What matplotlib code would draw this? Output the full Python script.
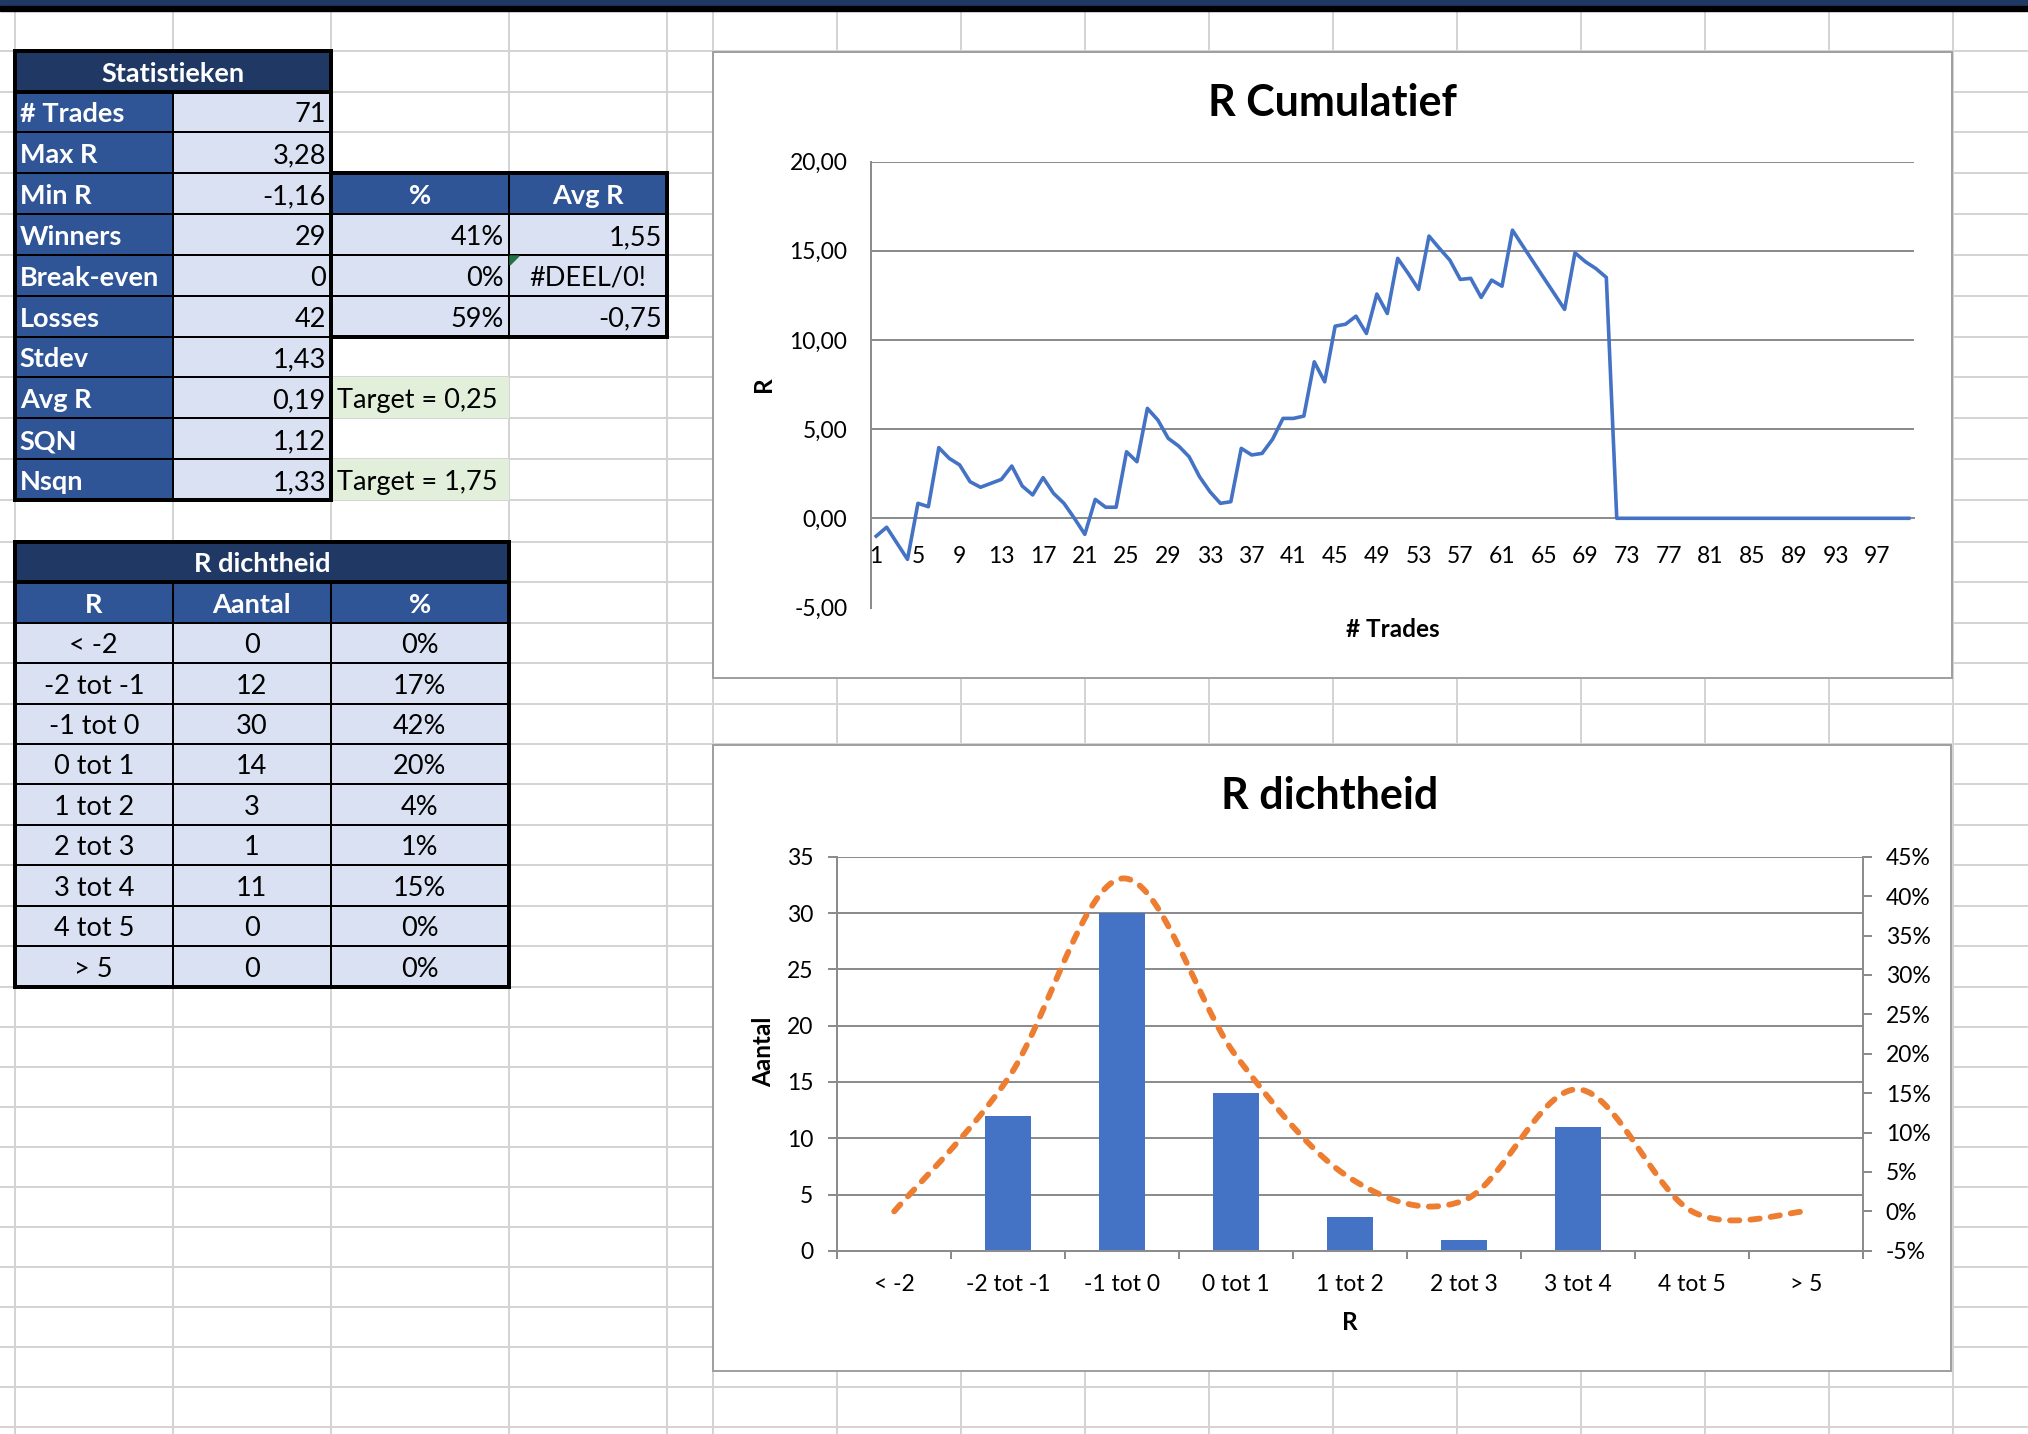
import numpy as np
import matplotlib
matplotlib.use("Agg")
import matplotlib.pyplot as plt
from matplotlib.patches import Rectangle, Polygon
from matplotlib.ticker import FuncFormatter

plt.rcParams['font.family'] = ['Lato', 'DejaVu Sans']

W, H = 2028, 1434

# ---------------- data ----------------
stat_labels = ["# Trades", "Max R", "Min R", "Winners", "Break-even", "Losses",
               "Stdev", "Avg R", "SQN", "Nsqn"]
stat_values = ["71", "3,28", "-1,16", "29", "0", "42", "1,43", "0,19", "1,12", "1,33"]

split_headers = ["%", "Avg R"]
split_rows = ["Winners", "Break-even", "Losses"]
split_pct = ["41%", "0%", "59%"]
split_avg = ["1,55", "#DEEL/0!", "-0,75"]

target_rows = ["Avg R", "Nsqn"]
target_texts = ["Target = 0,25", "Target = 1,75"]

r_bins = ["< -2", "-2 tot -1", "-1 tot 0", "0 tot 1", "1 tot 2",
          "2 tot 3", "3 tot 4", "4 tot 5", "> 5"]
r_counts = np.array([0, 12, 30, 14, 3, 1, 11, 0, 0])
r_pct = r_counts / r_counts.sum()

# cumulative R after each trade
cum_r_trades = [-1.0, -0.5, -1.4, -2.3, 0.84, 0.65, 3.96, 3.36, 2.99, 2.05,
                1.74, 1.96, 2.18, 2.93, 1.81, 1.31, 2.28, 1.40, 0.84, 0.0,
                -0.90, 1.06, 0.62, 0.62, 3.73, 3.17, 6.16, 5.51, 4.48, 4.05,
                3.45, 2.33, 1.49, 0.84, 0.93, 3.92, 3.55, 3.64, 4.43, 5.60,
                5.60, 5.73, 8.77, 7.65, 10.77, 10.88, 11.33, 10.36, 12.57, 11.48,
                14.57, 13.73, 12.83, 15.82, 15.13, 14.47, 13.39, 13.45, 12.38, 13.35,
                13.01, 16.15, 15.26, 14.37, 13.48, 12.60, 11.71, 14.88, 14.38, 14.00,
                13.50]
empty_slots = [0.0] * 29
cum_r = cum_r_trades + empty_slots
trade_nr = np.arange(1, len(cum_r) + 1)

# ---------------- colours ----------------
NAVY = "#203864"
MID = "#2F5597"
LIGHT = "#D9E1F2"
GREEN = "#E2EFDA"
SHEET_GRID = "#D4D4D4"
CHART_GRID = "#8C8C8C"
BLUE = "#4472C4"
ORANGE = "#ED7D31"
PX = 0.72  # points per pixel at dpi 100

# spreadsheet layout (pixels)
rows = np.concatenate([10 + 40.83 * np.arange(13),
                       541.7 + 40.45 * np.arange(12),
                       986.7 + 40 * np.arange(1, 12)])
cols = [0, 14.7, 172.8, 330.8, 509, 667, 713, 837, 961, 1085, 1208.7,
        1332.6, 1457, 1581, 1705, 1829, 1953]

fig = plt.figure(figsize=(W / 100, H / 100), dpi=100)
bg = fig.add_axes([0, 0, 1, 1])
bg.set_xlim(0, W)
bg.set_ylim(H, 0)
bg.axis('off')

# sheet gridlines
for y in rows[1:]:
    bg.plot([0, W], [y, y], color=SHEET_GRID, lw=2 * PX, zorder=0)
for x in cols[1:]:
    bg.plot([x, x], [10, H], color=SHEET_GRID, lw=2 * PX, zorder=0)

# top band
bg.add_patch(Rectangle((0, 0), W, 6, color=NAVY, zorder=1))
bg.add_patch(Rectangle((0, 6), W, 4.5, color="black", zorder=1))

FS = 19.5


def fill(c0, r0, c1, r1, color):
    bg.add_patch(Rectangle((cols[c0], rows[r0]), cols[c1] - cols[c0], rows[r1] - rows[r0],
                           facecolor=color, edgecolor="none", zorder=1))


def frame(c0, r0, c1, r1, lw):
    bg.add_patch(Rectangle((cols[c0], rows[r0]), cols[c1] - cols[c0], rows[r1] - rows[r0],
                           facecolor="none", edgecolor="black", lw=lw * PX, zorder=3))


def cell_text(c0, c1, r, s, ha="left", color="black", bold=False):
    if ha == "left":
        x = cols[c0] + 5
    elif ha == "right":
        x = cols[c1] - 5
    else:
        x = (cols[c0] + cols[c1]) / 2
    bg.text(x, rows[r + 1] - 10, s, ha=ha, va="baseline", fontsize=FS, color=color,
            fontweight="bold" if bold else "normal", zorder=4)


# Statistieken table
fill(1, 1, 3, 2, NAVY)
cell_text(1, 3, 1, "Statistieken", ha="center", color="white", bold=True)
for i, (lab, val) in enumerate(zip(stat_labels, stat_values)):
    r = 2 + i
    fill(1, r, 2, r + 1, MID)
    fill(2, r, 3, r + 1, LIGHT)
    frame(1, r, 2, r + 1, 2)
    frame(2, r, 3, r + 1, 2)
    cell_text(1, 2, r, lab, color="white", bold=True)
    cell_text(2, 3, r, val, ha="right")
frame(1, 1, 3, 2, 4)
frame(1, 1, 3, 12, 4)

# winners / losses split table
r_head = 2 + stat_labels.index("Min R")
for j, h in enumerate(split_headers):
    fill(3 + j, r_head, 4 + j, r_head + 1, MID)
    frame(3 + j, r_head, 4 + j, r_head + 1, 2)
    cell_text(3 + j, 4 + j, r_head, h, ha="center", color="white", bold=True)
for lab, p, a in zip(split_rows, split_pct, split_avg):
    r = 2 + stat_labels.index(lab)
    fill(3, r, 5, r + 1, LIGHT)
    frame(3, r, 4, r + 1, 2)
    frame(4, r, 5, r + 1, 2)
    cell_text(3, 4, r, p, ha="right")
    if a.startswith("#"):
        cell_text(4, 5, r, a, ha="center")
        bg.add_patch(Polygon([(cols[4] + 1, rows[r] + 1), (cols[4] + 10, rows[r] + 1),
                              (cols[4] + 1, rows[r] + 10)], closed=True,
                             color="#217346", zorder=5))
    else:
        cell_text(4, 5, r, a, ha="right")
frame(3, r_head, 5, r_head + 4, 4)

# targets
for lab, t in zip(target_rows, target_texts):
    r = 2 + stat_labels.index(lab)
    fill(3, r, 4, r + 1, GREEN)
    bg.text(cols[3] + 6, rows[r + 1] - 10, t, ha="left", va="baseline", fontsize=FS, zorder=4)

# R dichtheid table
fill(1, 13, 4, 14, NAVY)
cell_text(1, 4, 13, "R dichtheid", ha="center", color="white", bold=True)
for j, h in enumerate(["R", "Aantal", "%"]):
    fill(1 + j, 14, 2 + j, 15, MID)
    frame(1 + j, 14, 2 + j, 15, 2)
    cell_text(1 + j, 2 + j, 14, h, ha="center", color="white", bold=True)
for i, (b, c, p) in enumerate(zip(r_bins, r_counts, r_pct)):
    r = 15 + i
    fill(1, r, 4, r + 1, LIGHT)
    for j, s in enumerate([b, str(c), f"{round(p * 100):.0f}%"]):
        frame(1 + j, r, 2 + j, r + 1, 2)
        cell_text(1 + j, 2 + j, r, s, ha="center")
frame(1, 13, 4, 14, 4)
frame(1, 13, 4, 24, 4)

# chart frames
for (x0, y0, x1, y1) in [(712.6, 51.7, 1951.7, 678.0), (712.6, 745.0, 1950.5, 1370.7)]:
    bg.add_patch(Rectangle((x0, y0), x1 - x0, y1 - y0, facecolor="white",
                           edgecolor="#A0A0A0", lw=2 * PX, zorder=6))


def px_rect(x0, y0, x1, y1):
    return [x0 / W, 1 - y1 / H, (x1 - x0) / W, (y1 - y0) / H]


# ---------------- chart 1: R Cumulatief ----------------
ax1 = fig.add_axes(px_rect(871, 161.5, 1914, 607.5))
ax1.set_facecolor("none")
ax1.plot(trade_nr, cum_r, color=BLUE, lw=2.6, solid_joinstyle="round", zorder=3)
ax1.set_xlim(0.5, 100.5)
ax1.set_ylim(-5, 20)
ax1.set_yticks(np.arange(-5, 21, 5))
ax1.yaxis.set_major_formatter(FuncFormatter(lambda v, p: f"{v:.2f}".replace(".", ",")))
ax1.set_xticks(np.arange(1, 101, 4))
ax1.grid(axis="y", color=CHART_GRID, lw=2 * PX)
ax1.set_axisbelow(True)
for s in ["top", "right"]:
    ax1.spines[s].set_visible(False)
ax1.spines["left"].set_color(CHART_GRID)
ax1.spines["left"].set_linewidth(2 * PX)
ax1.spines["bottom"].set_position(("data", 0))
ax1.spines["bottom"].set_color(CHART_GRID)
ax1.spines["bottom"].set_linewidth(2 * PX)
ax1.tick_params(axis="both", length=0, labelsize=16.5)
ax1.tick_params(axis="y", pad=17)
ax1.tick_params(axis="x", pad=20)

bg.text(1332.5, 116.5, "R Cumulatief", ha="center", va="baseline", fontsize=31,
        fontweight="bold", zorder=7)
bg.text(1392.5, 637, "# Trades", ha="center", va="baseline", fontsize=17.5,
        fontweight="bold", zorder=7)
bg.text(763.5, 384.5, "R", ha="center", va="center", rotation=90, fontsize=17.5,
        fontweight="bold", zorder=7)


# ---------------- chart 2: R dichtheid ----------------
def excel_smooth(xs, ys, n=40):
    pts = np.column_stack([xs, ys]).astype(float)
    ext = np.vstack([pts[0], pts, pts[-1]])
    out = []
    t = np.linspace(0, 1, n)[:, None]
    for i in range(len(pts) - 1):
        p0, p3 = ext[i + 1], ext[i + 2]
        c1 = p0 + (p3 - ext[i]) / 6
        c2 = p3 - (ext[i + 3] - p0) / 6
        seg = ((1 - t) ** 3) * p0 + 3 * ((1 - t) ** 2) * t * c1 + 3 * (1 - t) * t ** 2 * c2 + t ** 3 * p3
        out.append(seg if i == 0 else seg[1:])
    out = np.vstack(out)
    return out[:, 0], out[:, 1]


ax2 = fig.add_axes(px_rect(837.2, 856.8, 1863, 1250.8))
ax2.set_facecolor("none")
x_bins = np.arange(len(r_bins))
ax2.bar(x_bins, r_counts, width=0.4, color=BLUE, zorder=2)
ax2.set_xlim(-0.5, len(r_bins) - 0.5)
ax2.set_ylim(0, 35)
ax2.set_yticks(np.arange(0, 36, 5))
ax2.grid(axis="y", color=CHART_GRID, lw=2 * PX)
ax2.set_axisbelow(True)
ax2.set_xticks(np.arange(-0.5, len(r_bins), 1))
ax2.set_xticklabels([])
ax2.set_xticks(x_bins, minor=True)
ax2.set_xticklabels(r_bins, minor=True)
ax2.tick_params(axis="x", which="major", length=6, width=2 * PX, color=CHART_GRID, direction="out")
ax2.tick_params(axis="x", which="minor", length=0, pad=17, labelsize=16.5)
ax2.tick_params(axis="y", length=6.3, width=2 * PX, color=CHART_GRID, direction="out",
                pad=11, labelsize=16.5)
for s in ["top", "right"]:
    ax2.spines[s].set_visible(False)
for s in ["left", "bottom"]:
    ax2.spines[s].set_color(CHART_GRID)
    ax2.spines[s].set_linewidth(2 * PX)

ax2r = ax2.twinx()
sx, sy = excel_smooth(x_bins, r_pct)
ax2r.plot(sx, sy, color=ORANGE, lw=4.2, linestyle=(0, (1.6, 1.9)),
          dash_capstyle="round", zorder=3)
ax2r.set_ylim(-0.05, 0.45)
ax2r.set_yticks(np.arange(-0.05, 0.451, 0.05))
ax2r.yaxis.set_major_formatter(FuncFormatter(lambda v, p: f"{int(round(v * 100))}%"))
ax2r.tick_params(axis="y", length=6.3, width=2 * PX, color=CHART_GRID, direction="out",
                 pad=10, labelsize=16.5)
for s in ["top", "left", "bottom"]:
    ax2r.spines[s].set_visible(False)
ax2r.spines["right"].set_color(CHART_GRID)
ax2r.spines["right"].set_linewidth(2 * PX)

bg.text(1330, 809.4, "R dichtheid", ha="center", va="baseline", fontsize=31,
        fontweight="bold", zorder=7)
bg.text(1350, 1330, "R", ha="center", va="baseline", fontsize=17.5,
        fontweight="bold", zorder=7)
bg.text(763.5, 1052, "Aantal", ha="center", va="center", rotation=90, fontsize=17.5,
        fontweight="bold", zorder=7)

fig.savefig("out.png", dpi=100)
